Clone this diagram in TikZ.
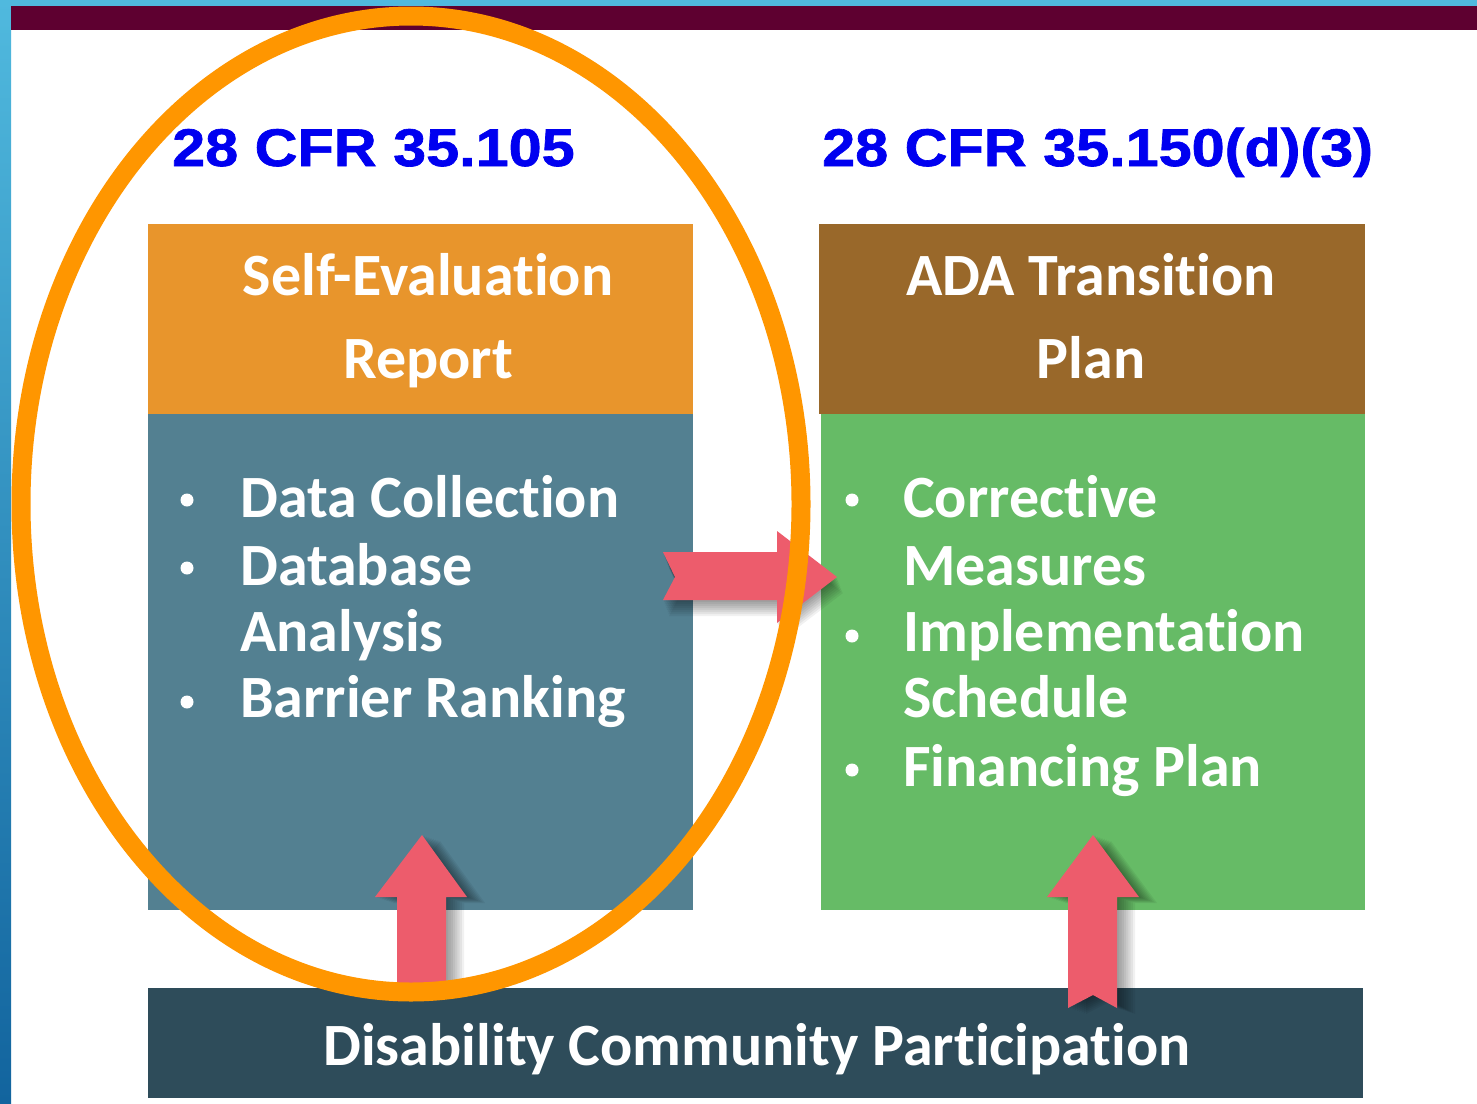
\documentclass[tikz,border=0pt]{standalone}
\usepackage{fontspec}
\newfontfamily\calfont{Carlito}[Ligatures={NoCommon,NoContextual}, Contextuals=NoAlternate]
\newfontfamily\arialfont{Liberation Sans Bold}[FakeBold=1.2]
\newcommand\nl{\kern0pt }
\definecolor{bandmaroon}{RGB}{94,0,48}
\definecolor{orangehdr}{RGB}{232,149,44}
\definecolor{bluebody}{RGB}{83,128,145}
\definecolor{brownhdr}{RGB}{153,104,42}
\definecolor{greenbody}{RGB}{102,187,102}
\definecolor{barcol}{RGB}{46,76,90}
\definecolor{pinkarrow}{RGB}{237,92,108}
\definecolor{ringorange}{RGB}{255,150,0}
\definecolor{cfrblue}{RGB}{0,0,240}
\definecolor{striptop}{RGB}{80,185,222}
\definecolor{stripbot}{RGB}{18,100,158}
% soft shadow: #1,#2 final shift, #3 path
\newcommand\softshade[3]{%
  \foreach \k in {1,...,8}{%
    \fill[black, opacity=0.055, shift={({#1*\k/8},{#2*\k/8})}] #3;}%
}
\begin{document}
\begin{tikzpicture}[x=1pt,y=-1pt,
  panel/.style={inner sep=0pt, outer sep=0pt, anchor=north west},
  calt/.style={inner sep=0pt, text=white, font=\calfont\bfseries\fontsize{60}{72}\selectfont},
  cfr/.style={inner sep=0pt, anchor=base west, text=cfrblue, font=\arialfont\fontsize{53}{60}\selectfont},
  bigarrow/.style={fill=pinkarrow},
  bulletdot/.style={fill=white}
]
\useasboundingbox (0,0) rectangle (1477,1103);
\fill[white] (0,0) rectangle (1477,1103);
% frame
\shade[top color=striptop, bottom color=stripbot] (0,0) rectangle (11,1103);
\fill[striptop] (0,0) rectangle (1477,6);
\fill[bandmaroon] (11,6) rectangle (1477,30);

% labels
\node[cfr] (cfrL) at (172,166) {\scalebox{1.12}[1]{28 CFR 35.105}};
\node[cfr] (cfrR) at (822,166) {\scalebox{1.12}[1]{28 CFR 35.150(d)(3)}};

% panels
\node[panel, fill=orangehdr, minimum width=545pt, minimum height=190pt] (lhead) at (148,224) {};
\node[panel, fill=bluebody, minimum width=545pt, minimum height=496pt] (lbody) at (148,414) {};
\node[panel, fill=brownhdr, minimum width=546pt, minimum height=190pt] (rhead) at (819,224) {};
\node[panel, fill=greenbody, minimum width=544pt, minimum height=496pt] (rbody) at (821,414) {};
\node[panel, fill=barcol, minimum width=1215pt, minimum height=110pt] (bar) at (148,988) {};

% header texts
\node[calt, anchor=base] (lh1) at (428,295) {Self-Evaluat\nl ion};
\node[calt, anchor=base] (lh2) at (428,378) {Report};
\node[calt, anchor=base] (rh1) at (1091,295) {ADA Transit\nl ion};
\node[calt, anchor=base] (rh2) at (1091,378) {Plan};

% left list
\fill[bulletdot] (187,500) circle (6.5pt);
\fill[bulletdot] (187,568) circle (6.5pt);
\fill[bulletdot] (187,702) circle (6.5pt);
\node[calt, anchor=base west] (l1) at (240,517) {Data Collection};
\node[calt, anchor=base west] (l2) at (240,585) {Database};
\node[calt, anchor=base west] (l3) at (240,651) {Analysis};
\node[calt, anchor=base west] (l4) at (240,717) {Barrier Ranking};

% right list
\fill[bulletdot] (852,500) circle (6.5pt);
\fill[bulletdot] (852,636) circle (6.5pt);
\fill[bulletdot] (852,770) circle (6.5pt);
\node[calt, anchor=base west] (r1) at (903,517) {Corrective};
\node[calt, anchor=base west] (r2) at (903,585) {Measures};
\node[calt, anchor=base west] (r3) at (903,651) {Implementat\nl ion};
\node[calt, anchor=base west] (r4) at (903,717) {Schedule};
\node[calt, anchor=base west] (r5) at (903,786) {Financing Plan};

% bottom bar text
\node[calt, anchor=base] (bt) at (757,1065) {Disability Community Participat\nl ion};

% arrows with soft shadows
\def\arrowR{(663,552) -- (777,552) -- (777,531) -- (837,577) -- (777,623) -- (777,600) -- (663,600) -- (675,577) -- cycle}
\def\arrowL{(397,988) -- (397,897) -- (375,897) -- (422,835) -- (467,897) -- (446,897) -- (446,988) -- cycle}
\def\arrowU{(1068,1008) -- (1068,897) -- (1047,897) -- (1093,835) -- (1139,897) -- (1117,897) -- (1117,1008) -- (1093,995) -- cycle}
\softshade{6}{16}{\arrowR}
\softshade{18}{6}{\arrowL}
\softshade{18}{6}{\arrowU}
\fill[bigarrow] \arrowR;
\fill[bigarrow] \arrowL;
\fill[bigarrow] \arrowU;

% highlight ring
\draw[ringorange, line width=19pt] (411,504) ellipse [x radius=390pt, y radius=488pt];
\end{tikzpicture}
\end{document}
